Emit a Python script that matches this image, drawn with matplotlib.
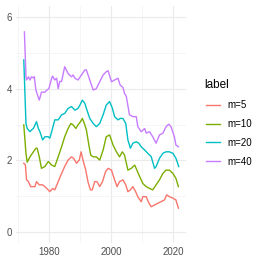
import numpy as np
import matplotlib
matplotlib.use('Agg')
import matplotlib.pyplot as plt

plt.rcParams['font.family'] = ['Liberation Sans', 'DejaVu Sans']

# traced series (year, value)
yr_m5 = [1971.9, 1972.4, 1972.8, 1973.4, 1974.1, 1975.0, 1975.5, 1976.0, 1976.9, 1978.0, 1978.7,
         1979.8, 1980.3, 1981.2, 1981.9, 1983.0, 1984.1, 1985.1, 1986.2, 1987.3, 1988.0, 1988.9,
         1989.8, 1990.4, 1991.0, 1991.9, 1992.6, 1993.4, 1994.0, 1994.8, 1995.5, 1996.4, 1997.3,
         1998.3, 1999.1, 2000.2, 2001.2, 2002.0, 2002.8, 2003.9, 2004.8, 2005.5, 2006.3, 2007.1,
         2008.0, 2008.7, 2009.8, 2010.3, 2011.4, 2012.3, 2013.0, 2014.1, 2015.2, 2016.2, 2017.3,
         2018.0, 2018.9, 2020.0, 2021.0, 2021.8]
m5 = [1.92, 1.88, 1.46, 1.41, 1.27, 1.27, 1.27, 1.41, 1.32, 1.32, 1.27,
      1.18, 1.13, 1.22, 1.18, 1.41, 1.64, 1.83, 2.01, 2.10, 2.06, 1.92,
      2.01, 2.24, 2.01, 1.73, 1.41, 1.18, 1.18, 1.41, 1.41, 1.27, 1.41,
      1.69, 1.78, 1.73, 1.46, 1.27, 1.41, 1.46, 1.32, 1.13, 1.18, 1.27,
      1.13, 0.99, 0.85, 0.99, 0.99, 0.81, 0.71, 0.76, 0.81, 0.85, 0.90,
      1.04, 0.99, 0.95, 0.90, 0.67]

yr_m10 = [1971.9, 1972.6, 1973.0, 1973.9, 1975.0, 1975.8, 1976.2, 1976.9, 1977.6, 1978.7, 1979.8,
          1980.9, 1981.9, 1983.0, 1984.1, 1985.1, 1986.2, 1987.1, 1987.8, 1988.7, 1989.4, 1990.2,
          1990.8, 1991.6, 1992.1, 1993.0, 1993.5, 1994.3, 1995.3, 1996.4, 1997.5, 1998.5, 1999.6,
          2000.7, 2001.8, 2002.8, 2003.7, 2004.4, 2005.5, 2006.6, 2007.7, 2008.4, 2009.3, 2010.3,
          2011.4, 2012.5, 2013.5, 2014.6, 2015.7, 2016.8, 2017.8, 2018.9, 2020.0, 2021.0, 2021.8]
m10 = [2.99, 2.20, 1.95, 2.10, 2.24, 2.34, 2.34, 2.10, 1.78, 1.83, 1.97,
       1.87, 1.83, 2.10, 2.38, 2.66, 2.89, 3.03, 2.99, 2.89, 2.99, 3.08,
       3.17, 2.99, 2.85, 2.38, 2.15, 2.10, 2.10, 2.01, 2.29, 2.66, 2.71,
       2.43, 2.24, 2.10, 2.24, 2.15, 1.73, 1.78, 1.87, 1.73, 1.55, 1.36,
       1.27, 1.22, 1.18, 1.32, 1.46, 1.64, 1.73, 1.73, 1.64, 1.50, 1.27]

yr_m20 = [1971.9, 1972.6, 1973.0, 1973.9, 1974.4, 1975.0, 1976.0, 1976.6, 1977.1, 1978.0, 1978.7,
          1979.8, 1980.3, 1980.9, 1981.9, 1983.0, 1984.1, 1985.1, 1986.2, 1987.3, 1988.4, 1989.4,
          1990.0, 1990.8, 1991.6, 1992.1, 1993.2, 1994.3, 1995.3, 1996.4, 1997.5, 1998.5, 1999.6,
          2000.5, 2001.2, 2002.3, 2003.0, 2003.9, 2004.8, 2005.5, 2006.3, 2007.1, 2008.2, 2009.0,
          2009.8, 2010.9, 2011.9, 2013.0, 2014.1, 2014.6, 2015.7, 2016.8, 2017.8, 2018.9, 2020.0,
          2021.0, 2021.9]
m20 = [4.80, 3.03, 2.89, 2.80, 2.85, 2.89, 3.08, 2.89, 2.80, 2.57, 2.66,
       2.66, 2.62, 2.80, 3.13, 3.13, 3.27, 3.31, 3.45, 3.50, 3.40, 3.45,
       3.54, 3.68, 3.59, 3.45, 3.17, 3.03, 2.94, 3.03, 3.27, 3.54, 3.64,
       3.45, 3.22, 3.13, 3.17, 3.17, 3.03, 2.57, 2.34, 2.48, 2.52, 2.48,
       2.38, 2.29, 2.20, 2.11, 1.78, 1.83, 2.06, 2.20, 2.24, 2.24, 2.20,
       2.06, 1.83]

yr_m40 = [1972.1, 1972.6, 1972.8, 1973.4, 1973.9, 1974.4, 1975.0, 1975.3, 1975.8, 1976.9, 1977.6,
          1978.7, 1979.2, 1980.0, 1980.9, 1981.2, 1981.9, 1982.5, 1983.0, 1983.5, 1984.1, 1985.1,
          1986.2, 1987.3, 1987.8, 1988.4, 1989.4, 1990.5, 1991.6, 1992.1, 1993.2, 1994.3, 1995.3,
          1996.4, 1997.5, 1998.5, 1999.1, 2000.2, 2001.2, 2002.3, 2003.0, 2003.9, 2004.4, 2005.0,
          2006.0, 2007.1, 2008.2, 2008.7, 2009.8, 2010.9, 2011.4, 2012.5, 2013.5, 2014.6, 2015.7,
          2016.8, 2017.8, 2018.7, 2019.4, 2020.5, 2021.0, 2021.8]
m40 = [5.58, 4.33, 4.24, 4.33, 4.24, 4.33, 4.30, 4.33, 3.96, 3.68, 3.90,
       3.90, 3.95, 4.00, 4.29, 4.35, 4.24, 4.29, 4.00, 4.20, 4.20, 4.61,
       4.42, 4.33, 4.38, 4.29, 4.24, 4.38, 4.52, 4.52, 4.24, 3.96, 4.00,
       4.19, 4.38, 4.47, 4.50, 4.19, 4.24, 4.29, 4.10, 4.03, 3.87, 3.78,
       3.27, 3.22, 3.22, 2.94, 2.80, 2.89, 2.76, 2.80, 2.66, 2.48, 2.71,
       2.76, 2.94, 3.01, 2.94, 2.66, 2.43, 2.38]

labels = ['m=5', 'm=10', 'm=20', 'm=40']
colors = ['#F8766D', '#7CAE00', '#00BFC4', '#C77CFF']

fig = plt.figure(figsize=(2.63, 2.63), dpi=100)
ax = fig.add_axes([0.061, 0.076, 0.648, 0.901])

series = [(yr_m5, m5), (yr_m10, m10), (yr_m20, m20), (yr_m40, m40)]
for (x, y), lab, c in zip(series, labels, colors):
    ax.plot(x, y, color=c, lw=1.0, label=lab)

ax.set_xlim(1969.4, 2024.4)
ax.set_ylim(-0.3, 6.3)
ax.set_xticks([1980, 2000, 2020])
ax.set_yticks([0, 2, 4, 6])
ax.set_xticks([1970, 1990, 2010], minor=True)
ax.set_yticks([1, 3, 5], minor=True)
ax.grid(which='major', color='#EBEBEB', lw=0.8)
ax.grid(which='minor', color='#F2F2F2', lw=0.5)
ax.set_axisbelow(True)
for s in ax.spines.values():
    s.set_visible(False)
ax.tick_params(which='both', length=0, labelsize=7, labelcolor='#4D4D4D', pad=3)

# legend title placed separately, entries below it
fig.text(204 / 263, 1 - 85 / 263, 'label', fontsize=8.5, ha='left', va='center')
leg = fig.legend(loc='upper left', bbox_to_anchor=(206 / 263, 1 - 100 / 263),
                 bbox_transform=fig.transFigure, frameon=False, fontsize=7,
                 handlelength=1.45, labelspacing=0.92, handletextpad=0.8,
                 borderpad=0, borderaxespad=0)

fig.savefig('out.png', dpi=100)
